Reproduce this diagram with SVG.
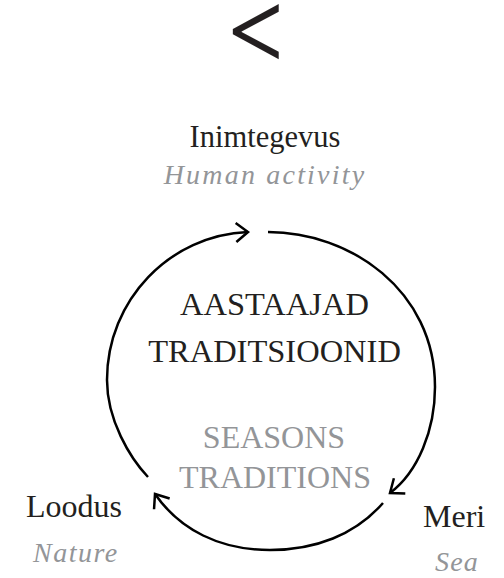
<svg xmlns="http://www.w3.org/2000/svg" width="504" height="578" viewBox="0 0 504 578">
  <style>
    .dark { font-family: "Liberation Serif", "Times New Roman", serif; fill: #231f20; }
    .gray { font-family: "Liberation Serif", "Times New Roman", serif; fill: #939598; }
    .it { font-style: italic; }
    .arc { fill: none; stroke: #000; stroke-width: 2.5; stroke-linecap: butt; }
  </style>
  <defs>
    <marker id="chev" markerUnits="userSpaceOnUse" markerWidth="30" markerHeight="30" refX="0" refY="0" viewBox="-15 -15 30 30" orient="auto" overflow="visible">
      <path d="M-12,-9.5 L0,0 L-12,9.5" fill="none" stroke="#000" stroke-width="2.5" stroke-linejoin="miter"/>
    </marker>
  </defs>
  <rect width="504" height="578" fill="#fff"/>

  <g id="back">
    <text x="257.5" y="61.5" text-anchor="middle" font-family="Inter, 'Liberation Sans', sans-serif" font-weight="300" font-size="105" fill="#231f20">&lt;</text>
  </g>

  <g id="connectors">
    <path class="arc" d="M148,477 C130,458 107,420 107,380 C107,300 170,235 248,232" marker-end="url(#chev)"/>
    <path class="arc" d="M268,232 C350,232 435,290 435,387 C435,430 418,472 390,493" marker-end="url(#chev)"/>
    <path class="arc" d="M383,503 C355,535 315,550 270,550 C220,550 180,530 155,494" marker-end="url(#chev)"/>
  </g>

  <g id="node-center">
    <text class="dark" x="274.5" y="315" font-size="32.5" text-anchor="middle">AASTAAJAD</text>
    <text class="dark" x="274.5" y="362" font-size="32.5" text-anchor="middle">TRADITSIOONID</text>
    <text class="gray" x="274" y="448" font-size="32" text-anchor="middle">SEASONS</text>
    <text class="gray" x="275" y="488" font-size="32" text-anchor="middle">TRADITIONS</text>
  </g>

  <g id="node-inimtegevus">
    <text class="dark" x="265" y="147" font-size="30.5" text-anchor="middle">Inimtegevus</text>
    <text class="gray it" x="265" y="184" font-size="28" letter-spacing="2.2" text-anchor="middle">Human activity</text>
  </g>

  <g id="node-loodus">
    <text class="dark" x="26" y="517" font-size="32">Loodus</text>
    <text class="gray it" x="33" y="562" font-size="28" letter-spacing="1.5">Nature</text>
  </g>

  <g id="node-meri">
    <text class="dark" x="423" y="527" font-size="32">Meri</text>
    <text class="gray it" x="435" y="571" font-size="28" letter-spacing="1.2">Sea</text>
  </g>
</svg>
